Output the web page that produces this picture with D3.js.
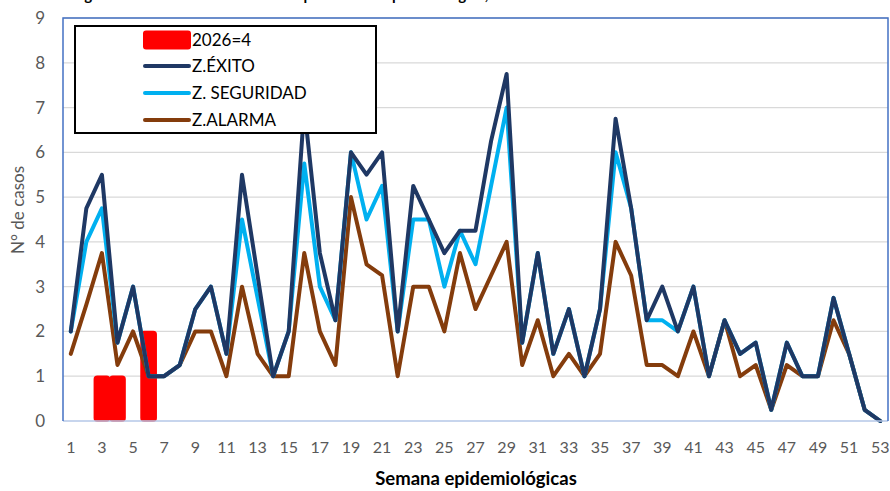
<!DOCTYPE html>
<html>
<head>
<meta charset="utf-8">
<script src="https://cdn.jsdelivr.net/npm/d3@7"></script>
<style>
  html, body { margin: 0; padding: 0; background: #fff; }
  svg { display: block; }
</style>
</head>
<body>
<svg id="chart" width="890" height="491"></svg>
<script>
const weeks = d3.range(1, 54);
const tickWeeks = weeks.filter(w => w % 2 === 1);
const yTicks = d3.range(0, 10);

const cases2026 = [0,0,1,1,0,2,0,0,0,0, 0,0,0,0,0,0,0,0,0,0, 0,0,0,0,0,0,0,0,0,0, 0,0,0,0,0,0,0,0,0,0, 0,0,0,0,0,0,0,0,0,0, 0,0,0];
const exito = [2,4.75,5.5,1.75,3,1,1,1.25,2.5,3, 1.5,5.5,3.25,1,2,7,3.75,2.25,6,5.5, 6,2,5.25,4.5,3.75,4.25,4.25,6.25,7.75,1.75, 3.75,1.5,2.5,1,2.5,6.75,4.75,2.25,3,2, 3,1,2.25,1.5,1.75,0.25,1.75,1,1,2.75, 1.5,0.25,0];
const seguridad = [2,4,4.75,1.75,3,1,1,1.25,2.5,3, 1.5,4.5,2.75,1,2,5.75,3,2.25,6,4.5, 5.25,2,4.5,4.5,3,4.25,3.5,5.25,7,1.75, 3.75,1.5,2.5,1,2.5,6,4.75,2.25,2.25,2, 3,1,2.25,1.5,1.75,0.25,1.75,1,1,2.75, 1.5,0.25,0];
const alarma = [1.5,2.6,3.75,1.25,2,1,1,1.25,2,2, 1,3,1.5,1,1,3.75,2,1.25,5,3.5, 3.25,1,3,3,2,3.75,2.5,3.25,4,1.25, 2.25,1,1.5,1,1.5,4,3.25,1.25,1.25,1, 2,1,2.25,1,1.25,0.25,1.25,1,1,2.25, 1.5,0.25,0];

const legendLabels = ["2026=4", "Z.ÉXITO", "Z. SEGURIDAD", "Z.ALARMA"];
const colors = { bar: "#FF0000", exito: "#1F3864", seguridad: "#00B0F0", alarma: "#843C0C" };

const svg = d3.select("#chart");
const pLeft = 63, pRight = 888, pTop = 18, pBottom = 421;
const FONT = "Lato, 'Open Sans', sans-serif";

const x = d3.scaleBand().domain(weeks).range([pLeft, pRight]).padding(0);
const xc = w => x(w) + x.bandwidth() / 2;
const y = d3.scaleLinear().domain([0, 9]).range([pBottom, pTop]);

// title (cut off at top in the reference)
svg.append("text")
  .attr("x", 72).attr("y", 0)
  .attr("font-family", FONT).attr("font-weight", "bold").attr("font-size", 15)
  .attr("fill", "#000")
  .text("Figura 1. Canal endémico de casos por semana epidemiológica, 2026");

// gridlines
svg.append("g").selectAll("line").data(yTicks.filter(v => v > 0)).join("line")
  .attr("x1", pLeft).attr("x2", pRight)
  .attr("y1", d => y(d)).attr("y2", d => y(d))
  .attr("stroke", "#D9D9D9").attr("stroke-width", 1.3);

// bars 2026
svg.append("g").selectAll("rect").data(weeks.filter((w, i) => cases2026[i] > 0)).join("rect")
  .attr("x", d => x(d) + 0.2)
  .attr("width", x.bandwidth() - 0.4)
  .attr("y", d => y(cases2026[d - 1]))
  .attr("height", d => pBottom - y(cases2026[d - 1]))
  .attr("rx", 3)
  .attr("fill", colors.bar).attr("stroke", colors.bar).attr("stroke-width", 1.5)
  .attr("stroke-linejoin", "round");

// lines
const line = d3.line().x((d, i) => xc(weeks[i])).y(d => y(d));
[[alarma, colors.alarma], [seguridad, colors.seguridad], [exito, colors.exito]].forEach(([data, c]) => {
  svg.append("path").datum(data)
    .attr("d", line)
    .attr("fill", "none").attr("stroke", c).attr("stroke-width", 4)
    .attr("stroke-linejoin", "round").attr("stroke-linecap", "round");
});

// plot border
svg.append("line").attr("x1", pLeft).attr("x2", pRight).attr("y1", pBottom).attr("y2", pBottom)
  .attr("stroke", "#B4C7E7").attr("stroke-width", 1.5);
svg.append("path")
  .attr("d", `M${pLeft},${pBottom}V${pTop}H${pRight}V${pBottom}`)
  .attr("fill", "none").attr("stroke", "#4472C4").attr("stroke-width", 1.5);

// y axis
const yAxis = svg.append("g").attr("transform", `translate(${pLeft - 18},0)`)
  .call(d3.axisLeft(y).tickValues(yTicks).tickSize(0).tickPadding(0).tickFormat(d3.format("d")));
yAxis.select(".domain").remove();
yAxis.selectAll("text").attr("font-family", FONT).attr("font-size", 17).attr("fill", "#595959");

// x axis
const xAxis = svg.append("g").attr("transform", `translate(0,${pBottom})`)
  .call(d3.axisBottom(x).tickValues(tickWeeks).tickSize(0).tickPadding(21));
xAxis.select(".domain").remove();
xAxis.selectAll("text").attr("font-family", FONT).attr("font-size", 16).attr("fill", "#595959");

// axis titles
svg.append("text")
  .attr("x", 476).attr("y", 485)
  .attr("text-anchor", "middle")
  .attr("font-family", FONT).attr("font-weight", "bold").attr("font-size", 18.5).attr("fill", "#000")
  .text("Semana epidemiológicas");
svg.append("text")
  .attr("transform", "translate(24,210) rotate(-90)")
  .attr("text-anchor", "middle")
  .attr("font-family", FONT).attr("font-size", 17).attr("fill", "#595959")
  .text("N° de casos");

// legend
const lg = svg.append("g");
lg.append("rect").attr("x", 75).attr("y", 26).attr("width", 301).attr("height", 107)
  .attr("fill", "#fff").attr("stroke", "#000").attr("stroke-width", 2);
const rowsY = [40, 66, 93, 120];
lg.append("rect").attr("x", 143).attr("y", 30.5).attr("width", 48).attr("height", 19)
  .attr("rx", 3).attr("fill", colors.bar);
[colors.exito, colors.seguridad, colors.alarma].forEach((c, i) => {
  lg.append("line").attr("x1", 145).attr("x2", 189)
    .attr("y1", rowsY[i + 1]).attr("y2", rowsY[i + 1])
    .attr("stroke", c).attr("stroke-width", 4).attr("stroke-linecap", "round");
});
lg.selectAll("text.lbl").data(legendLabels).join("text").attr("class", "lbl")
  .attr("x", 192).attr("y", (d, i) => rowsY[i])
  .attr("dy", "0.36em")
  .attr("font-family", FONT).attr("font-size", 17).attr("fill", "#000")
  .text(d => d);
</script>
</body>
</html>
